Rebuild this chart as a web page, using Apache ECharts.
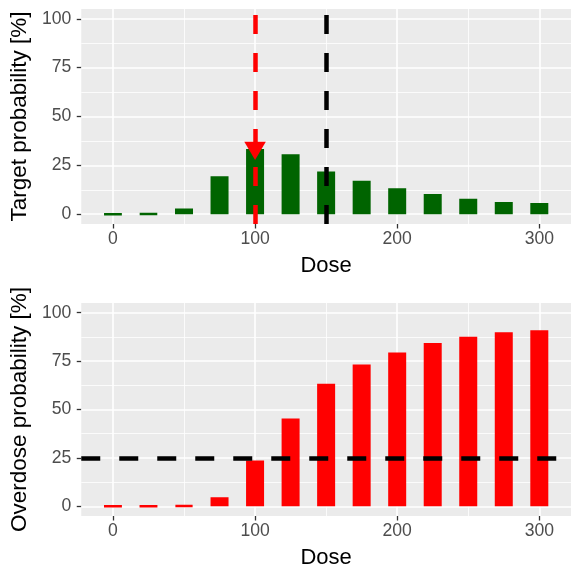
<!DOCTYPE html>
<html>
<head>
<meta charset="utf-8">
<script src="https://cdn.jsdelivr.net/npm/echarts@6/dist/echarts.min.js"></script>
<style>
html,body{margin:0;padding:0;background:#fff;}
#chart{width:571px;height:570px;}
</style>
</head>
<body>
<div id="chart"></div>
<script>
// ---- data ----
const doses = [0, 25, 50, 75, 100, 125, 150, 175, 200, 225, 250, 275, 300];
const targetProb = [0.1, 0.2, 2.9, 19.4, 33.4, 30.7, 21.8, 17.1, 13.3, 10.4, 7.9, 6.3, 5.8];
const overdoseProb = [0.05, 0.05, 0.4, 4.7, 23.6, 45.4, 63.3, 73.2, 79.5, 84.3, 87.6, 89.9, 90.9];
const xTicks = [0, 100, 200, 300];
const xMinorGrid = [50, 150, 250];
const yTicks = [0, 25, 50, 75, 100];
const yMinorGrid = [12.5, 37.5, 62.5, 87.5];
const nextDose = 100;
const maxDose = 150;
const arrowValue = 32.4;
const overdoseLimit = 25;
const xLimits = [-22.3, 322.3];
const yLimits = [-5, 105];
const xTitle = 'Dose';
const yTitles = ['Target probability [%]', 'Overdose probability [%]'];

// ---- styling ----
const FONT = 'Liberation Sans, Arial, Helvetica, sans-serif';
const dashArr = [19, 19];

function gridLines() {
  const d = [];
  xTicks.forEach(v => d.push({xAxis: v, lineStyle: {color: '#fff', width: 1.6, type: 'solid'}}));
  xMinorGrid.forEach(v => d.push({xAxis: v, lineStyle: {color: '#fff', width: 0.8, type: 'solid'}}));
  yTicks.forEach(v => d.push({yAxis: v, lineStyle: {color: '#fff', width: 1.6, type: 'solid'}}));
  yMinorGrid.forEach(v => d.push({yAxis: v, lineStyle: {color: '#fff', width: 0.8, type: 'solid'}}));
  return d;
}

function xAxisFor(i) {
  return {
    type: 'value', gridIndex: i, min: xLimits[0], max: xLimits[1],
    splitLine: {show: false},
    axisLine: {show: false, onZero: false},
    axisTick: {show: true, customValues: xTicks, length: 4.5, lineStyle: {color: '#333', width: 1.3}},
    axisLabel: {customValues: xTicks, color: '#4D4D4D', fontSize: 17.6, fontFamily: FONT, margin: 6},
    name: xTitle, nameLocation: 'middle', nameGap: 31,
    nameTextStyle: {color: '#000', fontSize: 22, fontFamily: FONT}
  };
}
function yAxisFor(i) {
  return {
    type: 'value', gridIndex: i, min: yLimits[0], max: yLimits[1],
    splitLine: {show: false},
    axisLine: {show: false, onZero: false},
    axisTick: {show: true, customValues: yTicks, length: 4.5, lineStyle: {color: '#333', width: 1.3}},
    axisLabel: {customValues: yTicks, color: '#4D4D4D', fontSize: 17.6, fontFamily: FONT, margin: 10},
    name: yTitles[i], nameLocation: 'middle', nameGap: 44,
    nameTextStyle: {color: '#000', fontSize: 22.5, fontFamily: FONT}
  };
}

const chart = echarts.init(document.getElementById('chart'), null, {renderer: 'canvas'});
const option = {
  animation: false,
  backgroundColor: '#fff',
  grid: [
    {left: 80, right: -7, top: 9, bottom: 346, show: true, backgroundColor: '#EBEBEB', borderWidth: 0},
    {left: 80, right: -7, top: 303, bottom: 51.5, show: true, backgroundColor: '#EBEBEB', borderWidth: 0}
  ],
  xAxis: [xAxisFor(0), xAxisFor(1)],
  yAxis: [yAxisFor(0), yAxisFor(1)],
  series: [
    // gridlines (panel 1 and 2)
    {type: 'scatter', xAxisIndex: 0, yAxisIndex: 0, data: [[0, 0]], symbolSize: 0, silent: true, z: 1,
     markLine: {z: 1, silent: true, symbol: 'none', label: {show: false}, animation: false, data: gridLines()}},
    {type: 'scatter', xAxisIndex: 1, yAxisIndex: 1, data: [[0, 0]], symbolSize: 0, silent: true, z: 1,
     markLine: {z: 1, silent: true, symbol: 'none', label: {show: false}, animation: false, data: gridLines()}},
    // bars
    {type: 'bar', xAxisIndex: 0, yAxisIndex: 0, barWidth: 18, z: 3,
     itemStyle: {color: '#006400', borderColor: '#006400', borderWidth: 2.5},
     data: doses.map((d, k) => [d, targetProb[k]])},
    {type: 'bar', xAxisIndex: 1, yAxisIndex: 1, barWidth: 18, z: 3,
     itemStyle: {color: '#FF0000', borderColor: '#FF0000', borderWidth: 2.5},
     data: doses.map((d, k) => [d, overdoseProb[k]])},
    // reference lines, top panel
    {type: 'scatter', xAxisIndex: 0, yAxisIndex: 0, data: [[0, 0]], symbolSize: 0, silent: true, z: 6,
     markLine: {z: 6, silent: true, symbol: 'none', label: {show: false}, animation: false,
       data: [
         {xAxis: nextDose, lineStyle: {color: '#FF0000', width: 4.5, type: dashArr}},
         {xAxis: maxDose, lineStyle: {color: '#000', width: 4.5, type: dashArr}}
       ]},
     markPoint: {z: 7, silent: true, animation: false, label: {show: false},
       data: [{coord: [nextDose, arrowValue], symbol: 'triangle', symbolRotate: 180,
               symbolSize: [21.5, 18.3], itemStyle: {color: '#FF0000'}}]}},
    // reference line, bottom panel
    {type: 'scatter', xAxisIndex: 1, yAxisIndex: 1, data: [[0, 0]], symbolSize: 0, silent: true, z: 6,
     markLine: {z: 6, silent: true, symbol: 'none', label: {show: false}, animation: false,
       data: [{yAxis: overdoseLimit, lineStyle: {color: '#000', width: 4.5, type: dashArr}}]}}
  ]
};
chart.setOption(option);
</script>
</body>
</html>
